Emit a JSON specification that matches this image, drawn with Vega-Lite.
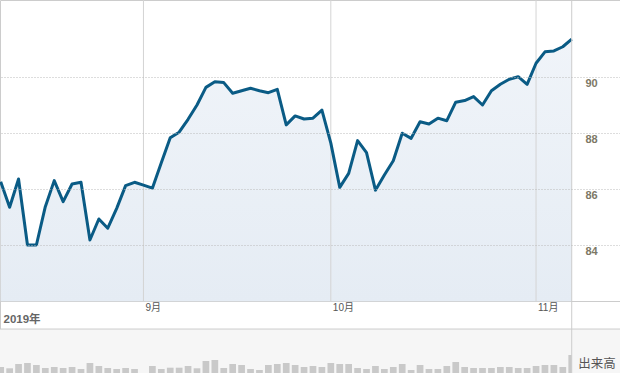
{
  "$schema": "https://vega.github.io/schema/vega-lite/v6.json",
  "width": 620,
  "height": 373,
  "autosize": {"type": "none"},
  "padding": 0,
  "background": "#ffffff",
  "config": {"view": {"stroke": "#cccccc"}, "scale": {"continuousPadding": 0}},
  "data": {
    "values": [
      {"d": 0, "p": 86.27, "v": 120000},
      {"d": 1, "p": 85.36, "v": 94000},
      {"d": 2, "p": 86.37, "v": 180000},
      {"d": 3, "p": 84.01, "v": 200000},
      {"d": 4, "p": 84.01, "v": 160000},
      {"d": 5, "p": 85.38, "v": 100000},
      {"d": 6, "p": 86.31, "v": 120000},
      {"d": 7, "p": 85.56, "v": 100000},
      {"d": 8, "p": 86.19, "v": 120000},
      {"d": 9, "p": 86.25, "v": 80000},
      {"d": 10, "p": 84.19, "v": 200000},
      {"d": 11, "p": 84.94, "v": 140000},
      {"d": 12, "p": 84.61, "v": 100000},
      {"d": 13, "p": 85.32, "v": 80000},
      {"d": 14, "p": 86.13, "v": 100000},
      {"d": 15, "p": 86.25, "v": 80000},
      {"d": 16, "p": 86.15, "v": null},
      {"d": 17, "p": 86.04, "v": 140000},
      {"d": 18, "p": 86.95, "v": 80000},
      {"d": 19, "p": 87.84, "v": 106000},
      {"d": 20, "p": 88.04, "v": 106000},
      {"d": 21, "p": 88.5, "v": 140000},
      {"d": 22, "p": 89.01, "v": 94000},
      {"d": 23, "p": 89.64, "v": 240000},
      {"d": 24, "p": 89.84, "v": 260000},
      {"d": 25, "p": 89.81, "v": 100000},
      {"d": 26, "p": 89.43, "v": 180000},
      {"d": 27, "p": 89.52, "v": 160000},
      {"d": 28, "p": 89.61, "v": 80000},
      {"d": 29, "p": 89.52, "v": 60000},
      {"d": 30, "p": 89.45, "v": 160000},
      {"d": 31, "p": 89.57, "v": 180000},
      {"d": 32, "p": 88.3, "v": 200000},
      {"d": 33, "p": 88.62, "v": 160000},
      {"d": 34, "p": 88.51, "v": 120000},
      {"d": 35, "p": 88.54, "v": 140000},
      {"d": 36, "p": 88.83, "v": 120000},
      {"d": 37, "p": 87.65, "v": 200000},
      {"d": 38, "p": 86.07, "v": 180000},
      {"d": 39, "p": 86.57, "v": 180000},
      {"d": 40, "p": 87.74, "v": 100000},
      {"d": 41, "p": 87.31, "v": 80000},
      {"d": 42, "p": 85.97, "v": 140000},
      {"d": 43, "p": 86.51, "v": 80000},
      {"d": 44, "p": 87.02, "v": 120000},
      {"d": 45, "p": 88.0, "v": 180000},
      {"d": 46, "p": 87.82, "v": 60000},
      {"d": 47, "p": 88.41, "v": 160000},
      {"d": 48, "p": 88.33, "v": 80000},
      {"d": 49, "p": 88.54, "v": 80000},
      {"d": 50, "p": 88.45, "v": 140000},
      {"d": 51, "p": 89.11, "v": 220000},
      {"d": 52, "p": 89.17, "v": 120000},
      {"d": 53, "p": 89.31, "v": 100000},
      {"d": 54, "p": 89.01, "v": 100000},
      {"d": 55, "p": 89.52, "v": 100000},
      {"d": 56, "p": 89.75, "v": 120000},
      {"d": 57, "p": 89.93, "v": 120000},
      {"d": 58, "p": 90.02, "v": 100000},
      {"d": 59, "p": 89.75, "v": 100000},
      {"d": 60, "p": 90.5, "v": 140000},
      {"d": 61, "p": 90.91, "v": 160000},
      {"d": 62, "p": 90.94, "v": 160000},
      {"d": 63, "p": 91.09, "v": 120000},
      {"d": 64, "p": 91.36, "v": 360000}
    ]
  },
  "resolve": {"scale": {"y": "independent"}, "axis": {"y": "independent"}},
  "layer": [
    {
      "data": {"values": [{}]},
      "mark": {"type": "rect", "color": "#f6f6f6"},
      "encoding": {
        "x": {"datum": -0.0785, "type": "quantitative", "scale": {"domain": [-0.0785, 69.41], "nice": false, "zero": false, "padding": 0}},
        "x2": {"datum": 69.41},
        "y": {"datum": 81.01, "type": "quantitative", "scale": {"domain": [79.44, 92.76], "nice": false, "zero": false}, "axis": null},
        "y2": {"datum": 79.44}
      }
    },
    {
      "mark": {
        "type": "area",
        "color": {
          "gradient": "linear", "x1": 0, "y1": 0, "x2": 0, "y2": 1,
          "stops": [{"offset": 0, "color": "#f0f4f9"}, {"offset": 1, "color": "#e5ecf4"}]
        }
      },
      "encoding": {
        "x": {
          "field": "d", "type": "quantitative",
          "scale": {"domain": [-0.0785, 69.41], "nice": false, "zero": false, "padding": 0},
          "axis": {
            "orient": "bottom", "offset": -72, "values": [16, 37, 60],
            "labelExpr": "datum.value == 16 ? '9月' : datum.value == 37 ? '10月' : '11月'",
            "grid": false, "ticks": false, "tickSize": 0, "domain": true, "domainColor": "#cccccc",
            "labelAlign": "left", "labelOffset": 1.5, "labelPadding": 1.5, "labelBaseline": "top",
            "labelFont": "Liberation Sans, Noto Sans CJK JP", "labelFontSize": 10, "labelColor": "#555555",
            "labelFlush": false, "labelOverlap": false,
            "title": "2019年", "titleAnchor": "start", "titleAlign": "left", "titleBaseline": "top",
            "titleX": 3, "titleY": 12.5, "titleFont": "Liberation Sans, Noto Sans CJK JP",
            "titleFontSize": 11.5, "titleFontWeight": "bold", "titleColor": "#666666"
          }
        },
        "y": {
          "field": "p", "type": "quantitative",
          "scale": {"domain": [79.44, 92.76], "nice": false, "zero": false},
          "axis": {
            "orient": "right", "values": [84, 86, 88, 90], "grid": true, "gridDash": [1, 2],
            "gridColor": "#bbbbbb", "domain": false, "ticks": false, "tickSize": 0,
            "labelPadding": -35, "labelAlign": "left", "labelBaseline": "top", "labelOffset": 0.5,
            "labelFont": "Liberation Sans", "labelFontSize": 11, "labelFontWeight": "bold",
            "labelColor": "#7d7866", "title": null, "zindex": 1
          }
        },
        "y2": {"datum": 82}
      }
    },
    {
      "data": {"values": [{"d": 16}, {"d": 37}, {"d": 60}]},
      "mark": {"type": "rule", "color": "#d4d4d4", "strokeWidth": 1},
      "encoding": {
        "x": {"field": "d", "type": "quantitative", "scale": {"domain": [-0.0785, 69.41], "nice": false, "zero": false, "padding": 0}},
        "y": {"datum": 92.76, "type": "quantitative", "scale": {"domain": [79.44, 92.76], "nice": false, "zero": false}, "axis": null},
        "y2": {"datum": 82}
      }
    },
    {
      "mark": {"type": "bar", "color": "#c9c9c9", "width": 6.7},
      "encoding": {
        "x": {"field": "d", "type": "quantitative", "scale": {"domain": [-0.0785, 69.41], "nice": false, "zero": false, "padding": 0}},
        "y": {"field": "v", "type": "quantitative", "scale": {"domain": [0, 7460000], "nice": false, "zero": true, "padding": 0}, "axis": null}
      }
    },
    {
      "data": {"values": [{}]},
      "mark": {"type": "rect", "color": "#f6f6f6"},
      "encoding": {
        "x": {"datum": 64, "type": "quantitative", "scale": {"domain": [-0.0785, 69.41], "nice": false, "zero": false, "padding": 0}},
        "x2": {"datum": 69.41},
        "y": {"datum": 81.01, "type": "quantitative", "scale": {"domain": [79.44, 92.76], "nice": false, "zero": false}, "axis": null},
        "y2": {"datum": 79.44}
      }
    },
    {
      "mark": {"type": "line", "color": "#0a5b85", "strokeWidth": 3, "strokeJoin": "round"},
      "encoding": {
        "x": {"field": "d", "type": "quantitative", "scale": {"domain": [-0.0785, 69.41], "nice": false, "zero": false, "padding": 0}},
        "y": {"field": "p", "type": "quantitative", "scale": {"domain": [79.44, 92.76], "nice": false, "zero": false}, "axis": null}
      }
    },
    {
      "data": {"values": [{}]},
      "mark": {"type": "rule", "color": "#cccccc", "strokeWidth": 1},
      "encoding": {
        "x": {"datum": 64, "type": "quantitative", "scale": {"domain": [-0.0785, 69.41], "nice": false, "zero": false, "padding": 0}}
      }
    },
    {
      "data": {"values": [{}]},
      "mark": {"type": "rule", "color": "#cccccc", "strokeWidth": 1},
      "encoding": {
        "y": {"datum": 81.01, "type": "quantitative", "scale": {"domain": [79.44, 92.76], "nice": false, "zero": false}, "axis": null}
      }
    },
    {
      "data": {"values": [{"t": "出来高"}]},
      "mark": {"type": "text", "font": "Noto Sans CJK JP", "fontSize": 12.5, "color": "#555555", "align": "center", "baseline": "middle"},
      "encoding": {
        "text": {"field": "t"},
        "x": {"datum": 66.83, "type": "quantitative", "scale": {"domain": [-0.0785, 69.41], "nice": false, "zero": false, "padding": 0}},
        "y": {"datum": 79.76, "type": "quantitative", "scale": {"domain": [79.44, 92.76], "nice": false, "zero": false}, "axis": null}
      }
    }
  ]
}
